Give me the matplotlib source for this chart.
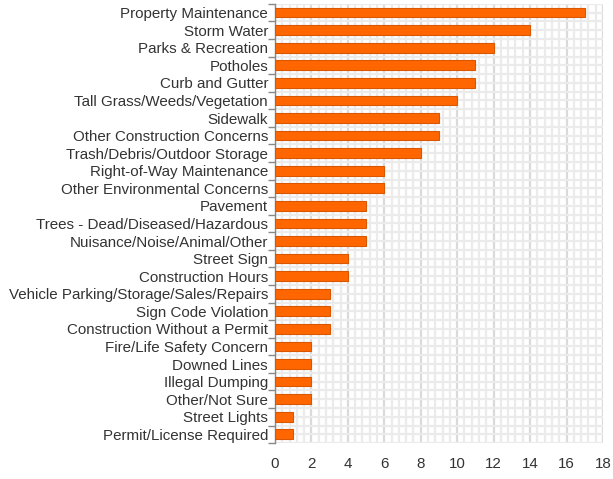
import matplotlib.pyplot as plt
import numpy as np
from matplotlib.ticker import MultipleLocator, FixedLocator

plt.rcParams['font.family'] = ['Liberation Sans', 'DejaVu Sans']

categories = [
    "Property Maintenance", "Storm Water", "Parks & Recreation", "Potholes",
    "Curb and Gutter", "Tall Grass/Weeds/Vegetation", "Sidewalk",
    "Other Construction Concerns", "Trash/Debris/Outdoor Storage",
    "Right-of-Way Maintenance", "Other Environmental Concerns", "Pavement",
    "Trees - Dead/Diseased/Hazardous", "Nuisance/Noise/Animal/Other",
    "Street Sign", "Construction Hours", "Vehicle Parking/Storage/Sales/Repairs",
    "Sign Code Violation", "Construction Without a Permit",
    "Fire/Life Safety Concern", "Downed Lines", "Illegal Dumping",
    "Other/Not Sure", "Street Lights", "Permit/License Required",
]
counts = [17, 14, 12, 11, 11, 10, 9, 9, 8, 6, 6, 5, 5, 5, 4, 4, 3, 3, 3, 2, 2, 2, 2, 1, 1]

n = len(categories)
y = np.arange(n)[::-1]

fig = plt.figure(figsize=(6.13, 4.79), dpi=100)
ax = fig.add_axes([0.4486, 0.075, 0.5350, 0.917])

ax.barh(y, counts, height=0.55, color='#FF6600', edgecolor='#D95700', linewidth=0.8, zorder=3)

ax.set_xlim(0, 18)
ax.set_ylim(-0.5, n - 0.5)
ax.xaxis.set_major_locator(MultipleLocator(2))
ax.xaxis.set_minor_locator(MultipleLocator(0.4))
ax.set_yticks(y)
ax.set_yticklabels(categories)
ax.yaxis.set_minor_locator(FixedLocator(np.arange(-0.5, n, 1.0)))

ax.grid(which='major', axis='x', color='#DADADA', linewidth=1.6, zorder=0)
ax.grid(which='minor', axis='x', color='#EBEBEB', linewidth=1.6, zorder=0)
ax.grid(which='both', axis='y', color='#EBEBEB', linewidth=1.6, zorder=0)
ax.set_axisbelow(True)

ax.tick_params(axis='y', which='major', length=0, pad=5, labelsize=10.9, labelcolor='#333333')
ax.tick_params(axis='y', which='minor', length=5, color='#888888', width=1)
ax.tick_params(axis='x', which='both', length=0, pad=10, labelsize=10.9, labelcolor='#333333')

for s in ['top', 'right', 'bottom']:
    ax.spines[s].set_visible(False)
ax.spines['left'].set_color('#888888')
ax.spines['left'].set_linewidth(1)

fig.savefig('out.png', dpi=100)
